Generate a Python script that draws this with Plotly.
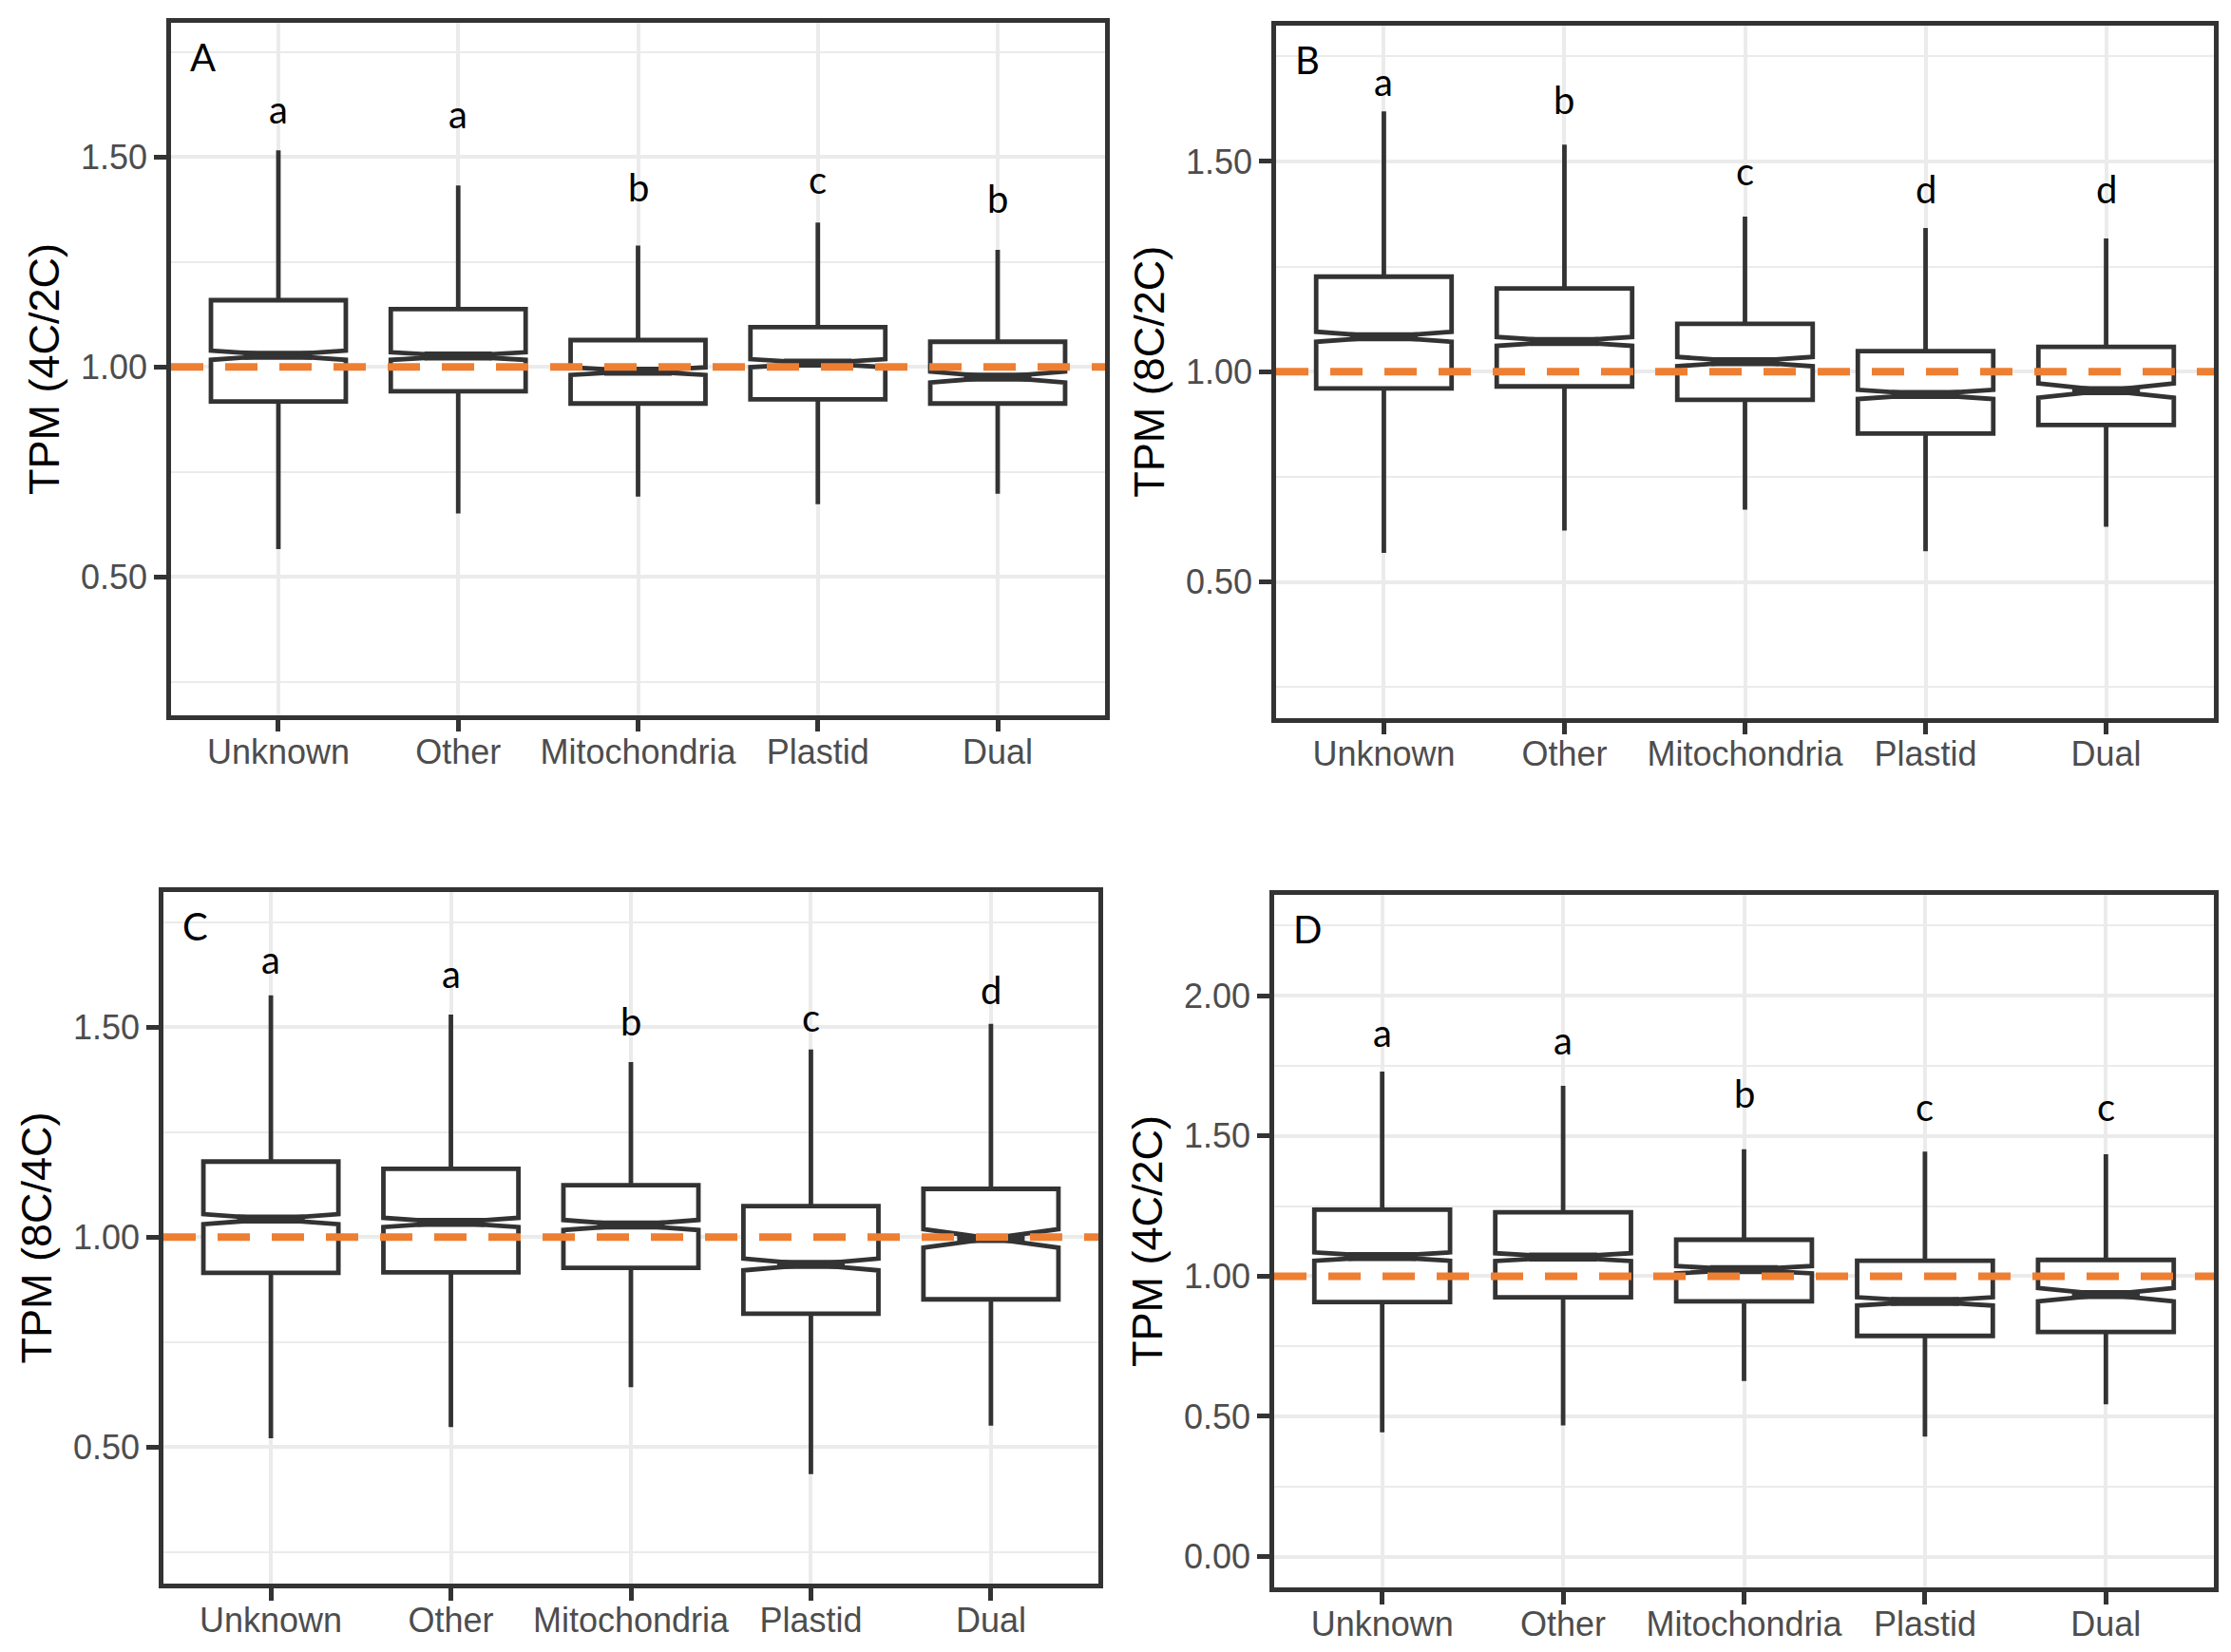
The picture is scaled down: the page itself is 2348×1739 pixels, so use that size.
import plotly.graph_objects as go

categories = ["Unknown", "Other", "Mitochondria", "Plastid", "Dual"]
panel_labels = ["A", "B", "C", "D"]
y_titles = ["TPM (4C/2C)", "TPM (8C/2C)", "TPM (8C/4C)", "TPM (4C/2C)"]
ref_value = 1.0

# Panel A
a_upper = [1.516, 1.432, 1.289, 1.344, 1.279]
a_q3 = [1.159, 1.138, 1.064, 1.095, 1.060]
a_median = [1.028, 1.026, 0.990, 1.009, 0.976]
a_q1 = [0.918, 0.942, 0.913, 0.923, 0.913]
a_lower = [0.566, 0.651, 0.691, 0.673, 0.698]
a_notch = [0.011, 0.009, 0.009, 0.0095, 0.013]
a_letters = ["a", "a", "b", "c", "b"]
a_letter_y = [1.576, 1.566, 1.390, 1.410, 1.363]

# Panel B
b_upper = [1.619, 1.540, 1.369, 1.342, 1.317]
b_q3 = [1.226, 1.198, 1.114, 1.049, 1.059]
b_median = [1.083, 1.072, 1.024, 0.946, 0.955]
b_q1 = [0.960, 0.965, 0.933, 0.853, 0.873]
b_lower = [0.569, 0.622, 0.672, 0.573, 0.631]
b_notch = [0.012, 0.0105, 0.011, 0.011, 0.017]
b_letters = ["a", "b", "c", "d", "d"]
b_letter_y = [1.653, 1.609, 1.440, 1.396, 1.396]

# Panel C
c_upper = [1.576, 1.530, 1.417, 1.447, 1.508]
c_q3 = [1.180, 1.163, 1.124, 1.074, 1.115]
c_median = [1.043, 1.035, 1.029, 0.935, 0.997]
c_q1 = [0.915, 0.916, 0.927, 0.818, 0.852]
c_lower = [0.521, 0.548, 0.643, 0.436, 0.551]
c_notch = [0.012, 0.011, 0.012, 0.014, 0.022]
c_letters = ["a", "a", "b", "c", "d"]
c_letter_y = [1.624, 1.589, 1.476, 1.486, 1.551]

# Panel D
d_upper = [1.730, 1.679, 1.453, 1.444, 1.435]
d_q3 = [1.237, 1.228, 1.130, 1.055, 1.058]
d_median = [1.070, 1.068, 1.023, 0.910, 0.934]
d_q1 = [0.908, 0.925, 0.910, 0.787, 0.801]
d_lower = [0.443, 0.468, 0.626, 0.428, 0.543]
d_notch = [0.015, 0.014, 0.013, 0.015, 0.024]
d_letters = ["a", "a", "b", "c", "c"]
d_letter_y = [1.813, 1.785, 1.595, 1.549, 1.549]

y_ranges = [[0.171, 1.819], [0.177, 1.823], [0.175, 1.822], [-0.110, 2.360]]

panels = [
    (a_upper, a_q3, a_median, a_q1, a_lower, a_notch, a_letters, a_letter_y),
    (b_upper, b_q3, b_median, b_q1, b_lower, b_notch, b_letters, b_letter_y),
    (c_upper, c_q3, c_median, c_q1, c_lower, c_notch, c_letters, c_letter_y),
    (d_upper, d_q3, d_median, d_q1, d_lower, d_notch, d_letters, d_letter_y),
]

W, H = 2348, 1739
# plot areas in pixels: left, right, top, bottom
areas = [
    (180, 1163, 24.3, 752.7),
    (1343, 2330, 27, 755.5),
    (172, 1156, 939, 1667),
    (1341, 2330, 942, 1671),
]
X_RANGE = [-0.597, 4.597]
BOX_WIDTH = 0.75
MEDIAN_HALF = BOX_WIDTH / 4  # ggplot notchwidth 0.5

LINE = "#333333"
GRID = "#EBEBEB"
ORANGE = "#EE7F32"
TICKFONT = dict(family="Liberation Sans, Arial, sans-serif", size=36, color="#4D4D4D")
TITLEFONT = dict(family="Liberation Sans, Arial, sans-serif", size=45, color="black")
LETTERFONT = dict(family="Lato, Open Sans, sans-serif", size=40, color="black")

positions = list(range(len(categories)))

fig = go.Figure()
layout = dict(
    width=W, height=H, autosize=False,
    margin=dict(l=0, r=0, t=0, b=0),
    paper_bgcolor="white", plot_bgcolor="white",
    showlegend=False, boxmode="overlay",
    annotations=[], shapes=[],
)

for i, (upper, q3, med, q1, lower, notch, letters, letter_y) in enumerate(panels):
    n = "" if i == 0 else str(i + 1)
    xa, ya = "x" + n, "y" + n
    l, r, t, b = areas[i]
    fig.add_trace(go.Box(
        x=positions, q1=q1, median=med, q3=q3,
        lowerfence=lower, upperfence=upper, notchspan=notch,
        notched=True, notchwidth=0.5, width=BOX_WIDTH, whiskerwidth=0,
        boxpoints=False, fillcolor="white",
        line=dict(color=LINE, width=4.8),
        xaxis=xa, yaxis=ya, hoverinfo="skip",
    ))
    # thick median segments (ggplot fatten = 2)
    mx, my = [], []
    for k, m in zip(positions, med):
        mx += [k - MEDIAN_HALF, k + MEDIAN_HALF, None]
        my += [m, m, None]
    fig.add_trace(go.Scatter(
        x=mx, y=my, mode="lines", line=dict(color=LINE, width=9.5),
        xaxis=xa, yaxis=ya, hoverinfo="skip", connectgaps=False,
        cliponaxis=False,
    ))
    layout["xaxis" + n] = dict(
        domain=[l / W, r / W], anchor=ya,
        range=X_RANGE, type="linear",
        tickmode="array", tickvals=positions, ticktext=categories,
        showline=True, mirror=True, linecolor=LINE, linewidth=4.5,
        ticks="outside", ticklen=13, tickwidth=4.5, tickcolor=LINE,
        tickfont=TICKFONT, ticklabelstandoff=-10,
        showgrid=True, gridcolor=GRID, gridwidth=3.5,
        zeroline=False,
    )
    layout["yaxis" + n] = dict(
        domain=[1 - b / H, 1 - t / H], anchor=xa,
        range=y_ranges[i], dtick=0.5, tick0=0, tickformat=".2f",
        showline=True, mirror=True, linecolor=LINE, linewidth=4.5,
        ticks="outside", ticklen=13, tickwidth=4.5, tickcolor=LINE,
        tickfont=TICKFONT, showgrid=True, gridcolor=GRID, gridwidth=3.5,
        minor=dict(dtick=0.25, tick0=0, showgrid=True, gridcolor=GRID,
                   gridwidth=2, ticks=""),
        zeroline=False,
        title=dict(text=y_titles[i], font=TITLEFONT, standoff=10),
    )
    layout["shapes"].append(dict(
        type="line", xref=xa + " domain", yref=ya,
        x0=0, x1=1, y0=ref_value, y1=ref_value,
        line=dict(color=ORANGE, width=8, dash="34px,23px"),
        layer="above",
    ))
    for k, lab, ly in zip(positions, letters, letter_y):
        layout["annotations"].append(dict(
            x=k, y=ly, xref=xa, yref=ya, text=lab, showarrow=False,
            xanchor="center", yanchor="bottom", yshift=-9.5, font=LETTERFONT,
        ))
    layout["annotations"].append(dict(
        x=0, y=1, xref=xa + " domain", yref=ya + " domain",
        text=panel_labels[i], showarrow=False,
        xanchor="left", yanchor="top", xshift=18, yshift=-10,
        font=LETTERFONT,
    ))

fig.update_layout(**layout)
fig.write_html("out.html", config={"displayModeBar": False},
               post_script="document.body.style.margin='0';document.body.style.overflow='hidden';")
